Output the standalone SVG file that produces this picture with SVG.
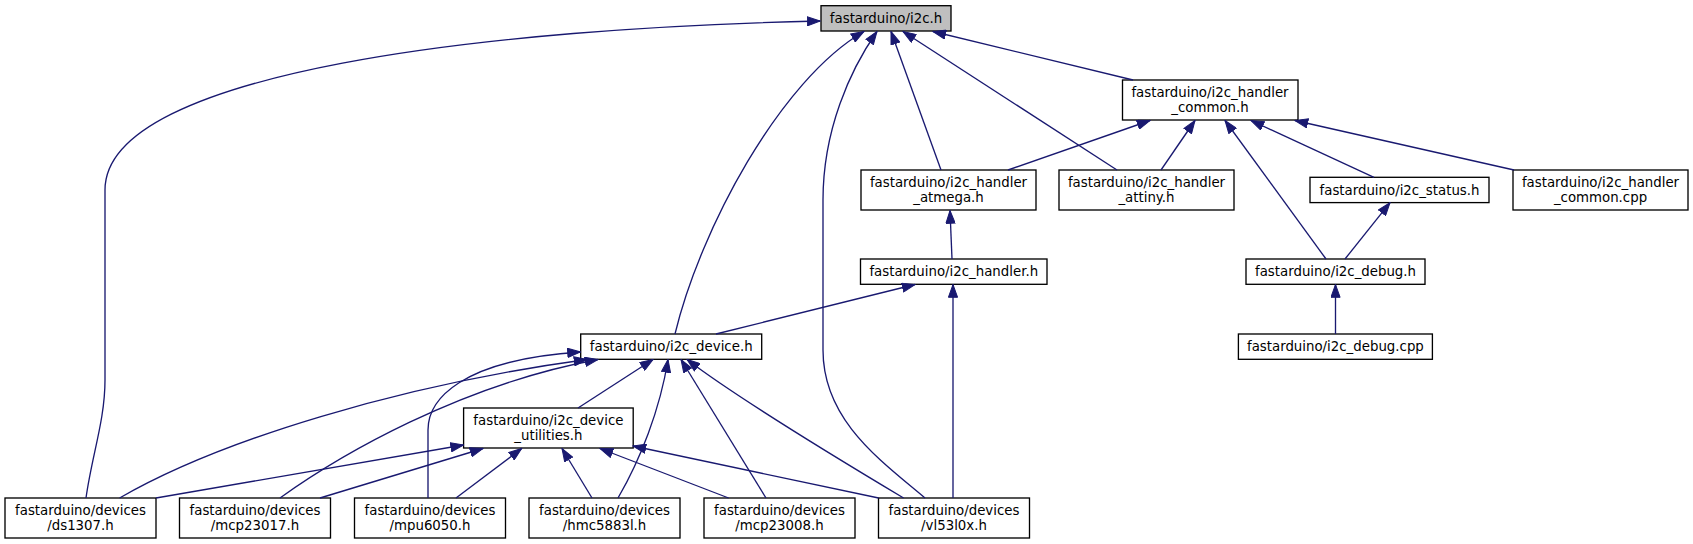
<svg xmlns="http://www.w3.org/2000/svg" width="1693" height="544" viewBox="0 0 1693 544">
<defs>
<style>
.n rect{fill:#fff;stroke:#000;stroke-width:1.33}
.n rect.root{fill:#bfbfbf}
.n text{font-family:"DejaVu Sans","Liberation Sans",sans-serif;font-size:13.33px;text-anchor:middle;fill:#000}
.e path{fill:none;stroke:#191970;stroke-width:1.33;marker-end:url(#ah)}
</style>
<marker id="ah" viewBox="0 0 14 10" markerWidth="14" markerHeight="10" refX="13.3" refY="5" orient="auto" markerUnits="userSpaceOnUse">
<path d="M0.5,0.4 L13.3,5 L0.5,9.6 z" fill="#191970" stroke="#191970" stroke-width="1"/>
</marker>
</defs>
<rect width="1693" height="544" fill="#fff"/>
<g id="nodes">
<g id="n_i2c" class="n"><rect class="root" x="821" y="5.7" width="130" height="25.3"/><text x="886" y="22.9">fastarduino/i2c.h</text></g>
<g id="n_common_h" class="n"><rect x="1122.5" y="80" width="175.5" height="40"/><text x="1210" y="97.3">fastarduino/i2c_handler</text><text x="1210" y="112">_common.h</text></g>
<g id="n_atmega" class="n"><rect x="861" y="170" width="175" height="40"/><text x="948.5" y="187.3">fastarduino/i2c_handler</text><text x="948.5" y="202">_atmega.h</text></g>
<g id="n_attiny" class="n"><rect x="1059" y="170" width="175" height="40"/><text x="1146.5" y="187.3">fastarduino/i2c_handler</text><text x="1146.5" y="202">_attiny.h</text></g>
<g id="n_status" class="n"><rect x="1310" y="177.3" width="179" height="25.3"/><text x="1399.5" y="194.6">fastarduino/i2c_status.h</text></g>
<g id="n_common_cpp" class="n"><rect x="1513" y="170" width="175" height="40"/><text x="1600.5" y="187.3">fastarduino/i2c_handler</text><text x="1600.5" y="202">_common.cpp</text></g>
<g id="n_handler" class="n"><rect x="860.5" y="259" width="186.5" height="25.3"/><text x="953.75" y="276.3">fastarduino/i2c_handler.h</text></g>
<g id="n_debug_h" class="n"><rect x="1246" y="259" width="179" height="25.3"/><text x="1335.5" y="276.3">fastarduino/i2c_debug.h</text></g>
<g id="n_device" class="n"><rect x="580.7" y="334" width="181" height="25.3"/><text x="671.2" y="351.3">fastarduino/i2c_device.h</text></g>
<g id="n_debug_cpp" class="n"><rect x="1238.4" y="334" width="194" height="25.3"/><text x="1335.4" y="351.3">fastarduino/i2c_debug.cpp</text></g>
<g id="n_utilities" class="n"><rect x="463.6" y="408" width="169.6" height="40"/><text x="548.4" y="425.3">fastarduino/i2c_device</text><text x="548.4" y="440">_utilities.h</text></g>
<g id="n_ds1307" class="n"><rect x="5" y="498" width="151" height="40"/><text x="80.5" y="515.3">fastarduino/devices</text><text x="80.5" y="530">/ds1307.h</text></g>
<g id="n_mcp23017" class="n"><rect x="179.5" y="498" width="151" height="40"/><text x="255" y="515.3">fastarduino/devices</text><text x="255" y="530">/mcp23017.h</text></g>
<g id="n_mpu6050" class="n"><rect x="354.5" y="498" width="151" height="40"/><text x="430" y="515.3">fastarduino/devices</text><text x="430" y="530">/mpu6050.h</text></g>
<g id="n_hmc5883l" class="n"><rect x="529" y="498" width="151" height="40"/><text x="604.5" y="515.3">fastarduino/devices</text><text x="604.5" y="530">/hmc5883l.h</text></g>
<g id="n_mcp23008" class="n"><rect x="704" y="498" width="151" height="40"/><text x="779.5" y="515.3">fastarduino/devices</text><text x="779.5" y="530">/mcp23008.h</text></g>
<g id="n_vl53l0x" class="n"><rect x="878.5" y="498" width="151" height="40"/><text x="954" y="515.3">fastarduino/devices</text><text x="954" y="530">/vl53l0x.h</text></g>
</g>
<g id="connectors" class="e">
<path d="M86,498 C92,455 105,420 105,380 L105,190 C105,70 500,28 820,21"/>
<path d="M675,334 C700,230 780,80 864,31.5"/>
<path d="M925,498 C880,460 823,420 823,350 L823,200 C823,130 850,70 877,31.5"/>
<path d="M941,170 L891,31.5"/>
<path d="M1117,170 L903,31.5"/>
<path d="M1133,80 L933,31.5"/>
<path d="M1008,170 L1150,120.5"/>
<path d="M1161,170 L1195,120.5"/>
<path d="M1326,259 L1225,120.5"/>
<path d="M1374,177.3 L1251,120.5"/>
<path d="M1514,170 L1295,120.5"/>
<path d="M1345,259 L1390,202.7"/>
<path d="M1335.5,334 L1335.5,284.5"/>
<path d="M952,259 L950,210.5"/>
<path d="M716,334 L915,284.5"/>
<path d="M953,498 L953,284.5"/>
<path d="M578,408 L653,359.5"/>
<path d="M119.6,498 C220,440 400,385 587,359.5"/>
<path d="M280,498 C340,455 460,385 598,359.5"/>
<path d="M428,498 L428,430 C428,400 460,360 580.5,352"/>
<path d="M618,498 C640,460 660,410 668,359.5"/>
<path d="M766,498 L681,359.5"/>
<path d="M903.6,498 C840,460 740,400 687,359.5"/>
<path d="M156,498 L463.6,445"/>
<path d="M320,498 L483,448.5"/>
<path d="M456,498 L521.7,448.5"/>
<path d="M592,498 L562,448.5"/>
<path d="M728.6,498 L600,448.5"/>
<path d="M878.6,498 L633,446"/>
</g>
</svg>
